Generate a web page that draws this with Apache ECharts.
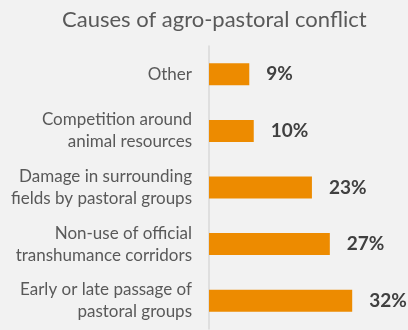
<!DOCTYPE html>
<html>
<head>
<meta charset="utf-8">
<script src="https://cdn.jsdelivr.net/npm/echarts@6/dist/echarts.min.js"></script>
<style>
  html, body { margin: 0; padding: 0; background: #f2f2f2; }
  #main { width: 408px; height: 330px; }
</style>
</head>
<body>
<div id="main"></div>
<script>
// causes, top to bottom
var categories = [
  'Other',
  'Competition around\nanimal resources',
  'Damage in surrounding\nfields by pastoral groups',
  'Non-use of official\ntranshumance corridors',
  'Early or late passage of\npastoral groups'
];
var shares = [9, 10, 23, 27, 32];

var myChart = echarts.init(document.getElementById('main'));
myChart.setOption({
  backgroundColor: '#f2f2f2',
  textStyle: { fontFamily: 'Lato' },
  title: {
    text: 'Causes of agro-pastoral conflict',
    left: 57,
    top: 4,
    textStyle: { fontFamily: 'Lato', fontSize: 22, fontWeight: 'normal', color: '#595959' }
  },
  grid: { left: 209, top: 46, width: 179, height: 283 },
  xAxis: {
    type: 'value',
    min: 0,
    max: 40,
    show: false
  },
  yAxis: {
    type: 'category',
    inverse: true,
    data: categories,
    axisLine: { lineStyle: { color: '#d9d9d9', width: 1.5 } },
    axisTick: { length: 6, lineStyle: { color: '#d9d9d9', width: 1.5 } },
    axisLabel: {
      margin: 17,
      fontSize: 17,
      lineHeight: 22,
      color: '#595959',
      align: 'right'
    }
  },
  series: [{
    type: 'bar',
    data: shares,
    barWidth: 22,
    itemStyle: { color: '#ed8b00' },
    label: {
      show: true,
      position: 'right',
      distance: 17,
      formatter: '{c}%',
      fontSize: 19,
      fontWeight: 'bold',
      color: '#404040'
    }
  }]
});
</script>
</body>
</html>
